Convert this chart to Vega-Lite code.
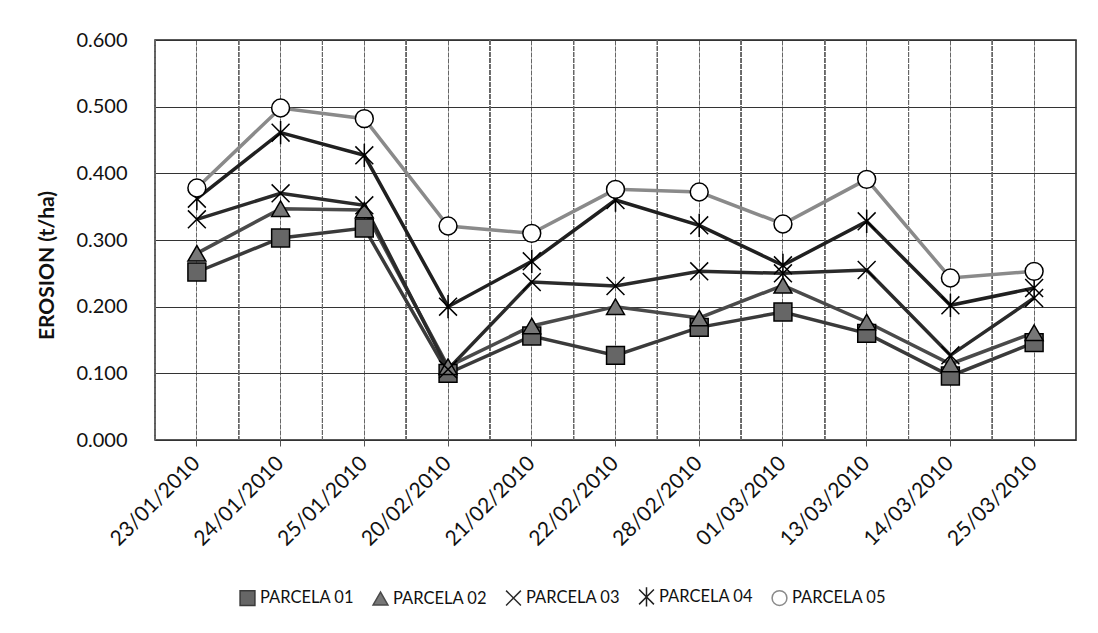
{
  "$schema": "https://vega.github.io/schema/vega-lite/v6.json",
  "width": 921,
  "height": 400,
  "padding": {"left": 36, "top": 30, "right": 20, "bottom": 10},
  "background": "white",
  "config": {
    "font": "Lato",
    "view": {"stroke": "#222", "strokeWidth": 1.5},
    "axis": {"labelColor": "#111", "titleColor": "#111", "domain": false},
    "legend": {
      "orient": "none",
      "legendX": 84,
      "legendY": 548,
      "direction": "horizontal",
      "padding": 0,
      "symbolStrokeWidth": 1.5,
      "labelFontSize": 16.5,
      "labelColor": "#111",
      "labelOffset": 4,
      "symbolSize": 220,
      "columnPadding": 15
    }
  },
  "data": {
    "values": [
      {"fecha": "23/01/2010", "serie": "PARCELA 01", "valor": 0.252},
      {"fecha": "24/01/2010", "serie": "PARCELA 01", "valor": 0.303},
      {"fecha": "25/01/2010", "serie": "PARCELA 01", "valor": 0.318},
      {"fecha": "20/02/2010", "serie": "PARCELA 01", "valor": 0.100},
      {"fecha": "21/02/2010", "serie": "PARCELA 01", "valor": 0.156},
      {"fecha": "22/02/2010", "serie": "PARCELA 01", "valor": 0.127},
      {"fecha": "28/02/2010", "serie": "PARCELA 01", "valor": 0.169},
      {"fecha": "01/03/2010", "serie": "PARCELA 01", "valor": 0.192},
      {"fecha": "13/03/2010", "serie": "PARCELA 01", "valor": 0.160},
      {"fecha": "14/03/2010", "serie": "PARCELA 01", "valor": 0.096},
      {"fecha": "25/03/2010", "serie": "PARCELA 01", "valor": 0.146},
      {"fecha": "23/01/2010", "serie": "PARCELA 02", "valor": 0.280},
      {"fecha": "24/01/2010", "serie": "PARCELA 02", "valor": 0.347},
      {"fecha": "25/01/2010", "serie": "PARCELA 02", "valor": 0.345},
      {"fecha": "20/02/2010", "serie": "PARCELA 02", "valor": 0.110},
      {"fecha": "21/02/2010", "serie": "PARCELA 02", "valor": 0.171},
      {"fecha": "22/02/2010", "serie": "PARCELA 02", "valor": 0.200},
      {"fecha": "28/02/2010", "serie": "PARCELA 02", "valor": 0.183},
      {"fecha": "01/03/2010", "serie": "PARCELA 02", "valor": 0.232},
      {"fecha": "13/03/2010", "serie": "PARCELA 02", "valor": 0.177},
      {"fecha": "14/03/2010", "serie": "PARCELA 02", "valor": 0.114},
      {"fecha": "25/03/2010", "serie": "PARCELA 02", "valor": 0.161},
      {"fecha": "23/01/2010", "serie": "PARCELA 03", "valor": 0.331},
      {"fecha": "24/01/2010", "serie": "PARCELA 03", "valor": 0.370},
      {"fecha": "25/01/2010", "serie": "PARCELA 03", "valor": 0.352},
      {"fecha": "20/02/2010", "serie": "PARCELA 03", "valor": 0.106},
      {"fecha": "21/02/2010", "serie": "PARCELA 03", "valor": 0.237},
      {"fecha": "22/02/2010", "serie": "PARCELA 03", "valor": 0.231},
      {"fecha": "28/02/2010", "serie": "PARCELA 03", "valor": 0.253},
      {"fecha": "01/03/2010", "serie": "PARCELA 03", "valor": 0.250},
      {"fecha": "13/03/2010", "serie": "PARCELA 03", "valor": 0.255},
      {"fecha": "14/03/2010", "serie": "PARCELA 03", "valor": 0.127},
      {"fecha": "25/03/2010", "serie": "PARCELA 03", "valor": 0.213},
      {"fecha": "23/01/2010", "serie": "PARCELA 04", "valor": 0.362},
      {"fecha": "24/01/2010", "serie": "PARCELA 04", "valor": 0.461},
      {"fecha": "25/01/2010", "serie": "PARCELA 04", "valor": 0.427},
      {"fecha": "20/02/2010", "serie": "PARCELA 04", "valor": 0.200},
      {"fecha": "21/02/2010", "serie": "PARCELA 04", "valor": 0.268},
      {"fecha": "22/02/2010", "serie": "PARCELA 04", "valor": 0.360},
      {"fecha": "28/02/2010", "serie": "PARCELA 04", "valor": 0.322},
      {"fecha": "01/03/2010", "serie": "PARCELA 04", "valor": 0.262},
      {"fecha": "13/03/2010", "serie": "PARCELA 04", "valor": 0.328},
      {"fecha": "14/03/2010", "serie": "PARCELA 04", "valor": 0.202},
      {"fecha": "25/03/2010", "serie": "PARCELA 04", "valor": 0.228},
      {"fecha": "23/01/2010", "serie": "PARCELA 05", "valor": 0.378},
      {"fecha": "24/01/2010", "serie": "PARCELA 05", "valor": 0.498},
      {"fecha": "25/01/2010", "serie": "PARCELA 05", "valor": 0.482},
      {"fecha": "20/02/2010", "serie": "PARCELA 05", "valor": 0.321},
      {"fecha": "21/02/2010", "serie": "PARCELA 05", "valor": 0.310},
      {"fecha": "22/02/2010", "serie": "PARCELA 05", "valor": 0.376},
      {"fecha": "28/02/2010", "serie": "PARCELA 05", "valor": 0.372},
      {"fecha": "01/03/2010", "serie": "PARCELA 05", "valor": 0.324},
      {"fecha": "13/03/2010", "serie": "PARCELA 05", "valor": 0.391},
      {"fecha": "14/03/2010", "serie": "PARCELA 05", "valor": 0.243},
      {"fecha": "25/03/2010", "serie": "PARCELA 05", "valor": 0.253}
    ]
  },
  "encoding": {
    "x": {
      "field": "fecha",
      "type": "ordinal",
      "sort": null,
      "title": null,
      "scale": {"type": "band", "paddingInner": 0, "paddingOuter": 0},
      "axis": {
        "labelAngle": -45,
        "labelAlign": "right",
        "labelBaseline": "middle",
        "labelFontSize": 21,
        "labelPadding": 14,
        "tickSize": 6,
        "tickColor": "#555",
        "grid": true,
        "gridColor": "#666",
        "gridDash": [5, 1],
        "gridWidth": 1
      }
    }
  },
  "layer": [
    {
      "mark": {"type": "rule", "color": "#666", "strokeWidth": 1, "strokeDash": [5, 1]},
      "encoding": {
        "x": {"field": "fecha", "type": "ordinal", "sort": null, "bandPosition": 0}
      }
    },
    {
      "mark": {"type": "line", "strokeWidth": 3.5},
      "encoding": {
        "y": {
          "field": "valor",
          "type": "quantitative",
          "title": "EROSION (t/ha)",
          "scale": {"domain": [0, 0.6]},
          "axis": {
            "values": [0, 0.1, 0.2, 0.3, 0.4, 0.5, 0.6],
            "format": ".3f",
            "labelFontSize": 20,
            "labelPadding": 28,
            "ticks": false,
            "tickSize": 0,
            "grid": true,
            "gridColor": "#333",
            "gridWidth": 1.2,
            "titleFontSize": 21,
            "titleFontWeight": "bold",
            "titlePadding": 18,
            "titleY": 225
          }
        },
        "stroke": {
          "field": "serie",
          "type": "nominal",
          "title": null,
          "scale": {
            "domain": ["PARCELA 01", "PARCELA 02", "PARCELA 03", "PARCELA 04", "PARCELA 05"],
            "range": ["#3a3a3a", "#4a4a4a", "#2a2a2a", "#202020", "#8a8a8a"]
          }
        }
      }
    },
    {
      "mark": {"type": "point", "filled": true, "size": 320, "stroke": "black", "strokeWidth": 1.5, "opacity": 1},
      "encoding": {
        "y": {"field": "valor", "type": "quantitative"},
        "shape": {
          "field": "serie",
          "type": "nominal",
          "title": null,
          "scale": {
            "domain": ["PARCELA 01", "PARCELA 02", "PARCELA 03", "PARCELA 04", "PARCELA 05"],
            "range": ["square", "triangle-up", "M-1,-1L1,1M-1,1L1,-1", "M-1,-1L1,1M-1,1L1,-1M0,-1.3L0,1.3", "circle"]
          }
        },
        "fill": {
          "field": "serie",
          "type": "nominal",
          "title": null,
          "scale": {
            "domain": ["PARCELA 01", "PARCELA 02", "PARCELA 03", "PARCELA 04", "PARCELA 05"],
            "range": ["#666666", "#777777", "transparent", "transparent", "white"]
          }
        }
      }
    }
  ]
}
